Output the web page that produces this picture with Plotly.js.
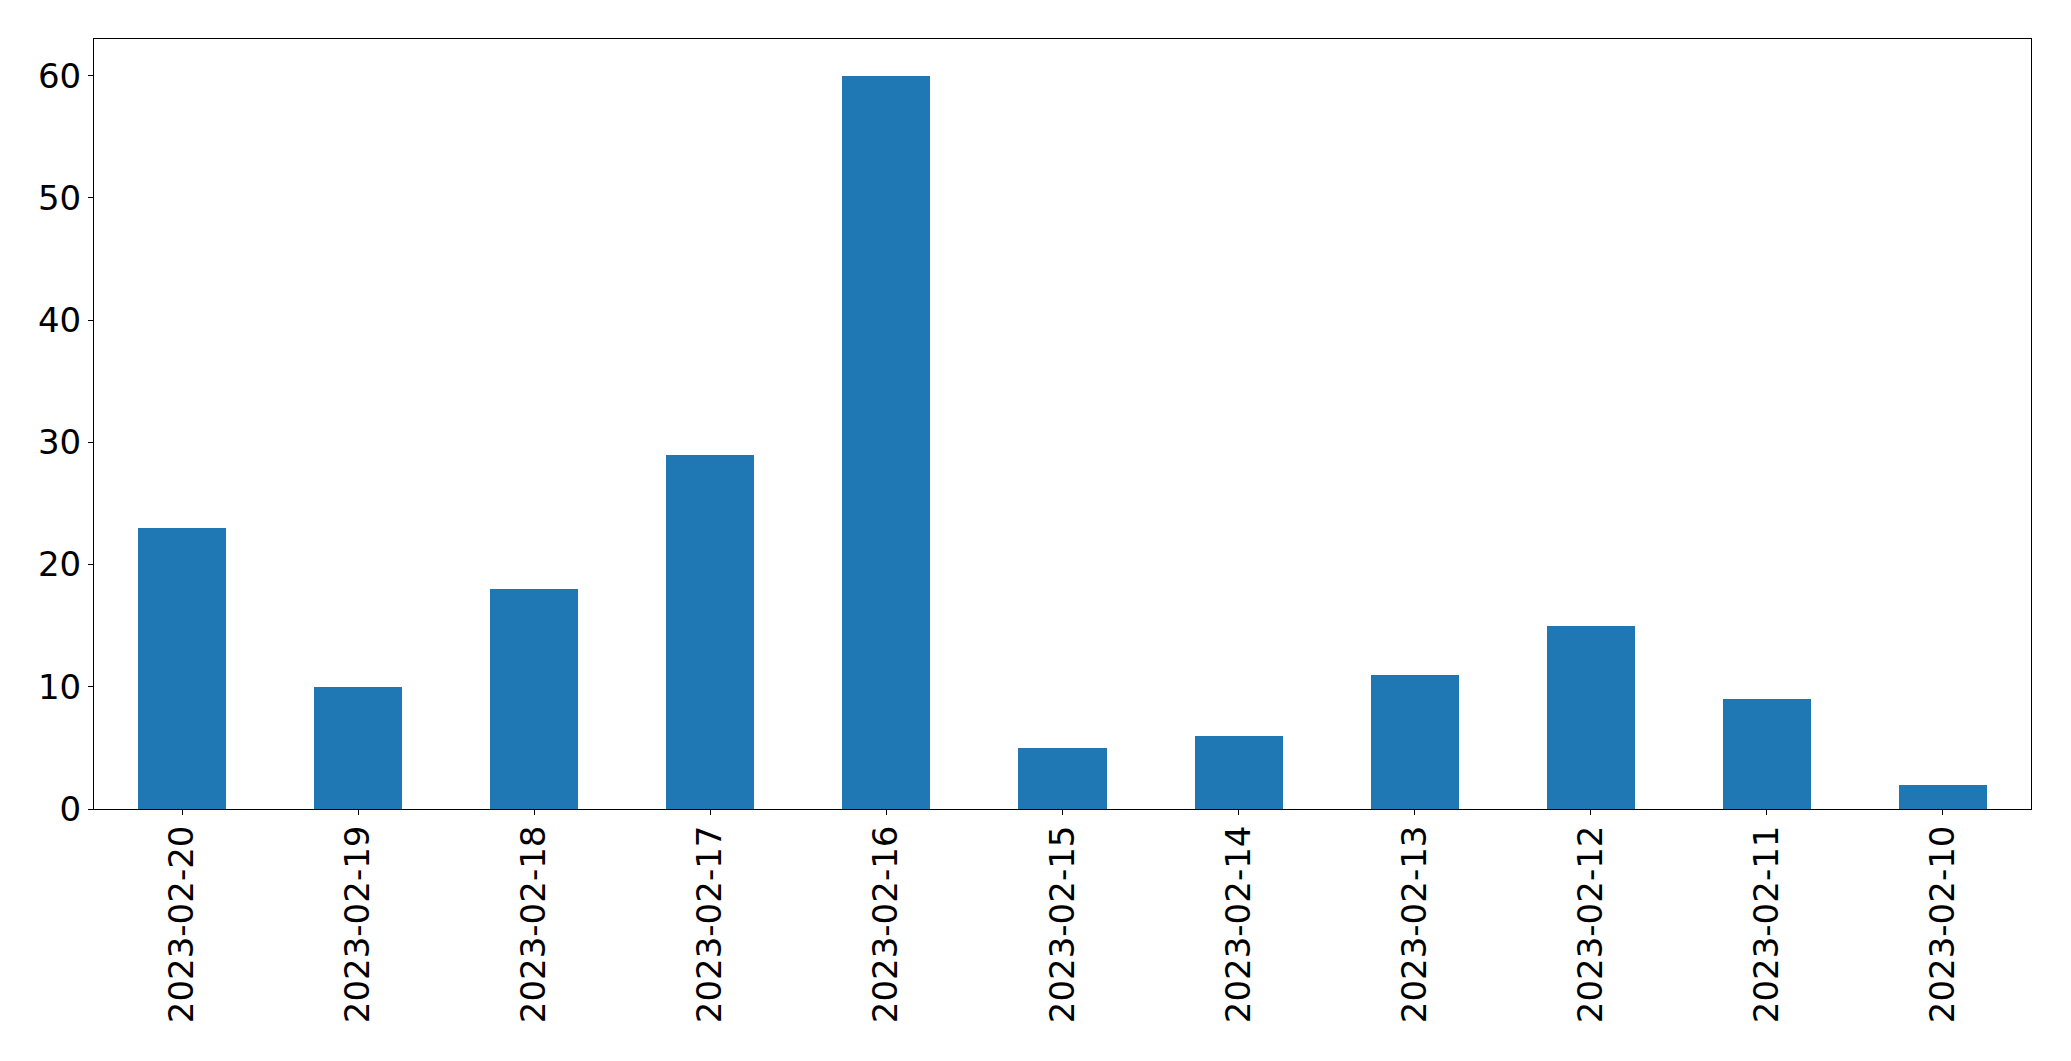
<!DOCTYPE html>
<html>
<head>
<meta charset="utf-8">
<script src="https://cdn.plot.ly/plotly-3.0.1.min.js"></script>
<style>html,body{margin:0;padding:0;background:#fff;}#chart{width:2071px;height:1061px;}</style>
</head>
<body>
<div id="chart"></div>
<script>
const dates = ["2023-02-20","2023-02-19","2023-02-18","2023-02-17","2023-02-16","2023-02-15","2023-02-14","2023-02-13","2023-02-12","2023-02-11","2023-02-10"];
const counts = [23, 10, 18, 29, 60, 5, 6, 11, 15, 9, 2];
const yTicks = [0, 10, 20, 30, 40, 50, 60];

const trace = {
  type: 'bar',
  x: dates,
  y: counts,
  width: 0.5,
  marker: {color: '#1f77b4', line: {width: 0}},
  hoverinfo: 'x+y'
};

const layout = {
  width: 2071,
  height: 1061,
  margin: {l: 94, r: 40, t: 39, b: 252, pad: 0},
  paper_bgcolor: '#ffffff',
  plot_bgcolor: '#ffffff',
  showlegend: false,
  font: {family: 'DejaVu Sans', size: 34, color: '#000000'},
  bargap: 0,
  xaxis: {
    type: 'category',
    range: [-0.5, 10.5],
    tickangle: -90,
    ticks: 'outside',
    ticklen: 5,
    tickwidth: 1,
    tickcolor: '#000',
    ticklabelstandoff: -3,
    showline: true,
    linecolor: '#000',
    linewidth: 1,
    mirror: true,
    showgrid: false,
    zeroline: false,
    tickfont: {family: 'DejaVu Sans', size: 34, color: '#000'}
  },
  yaxis: {
    range: [0, 63],
    tickvals: yTicks,
    ticktext: yTicks.map(String),
    ticks: 'outside',
    ticklen: 5,
    tickwidth: 1,
    tickcolor: '#000',
    showline: true,
    linecolor: '#000',
    linewidth: 1,
    mirror: true,
    showgrid: false,
    zeroline: false,
    tickfont: {family: 'DejaVu Sans', size: 34, color: '#000'}
  }
};

Plotly.newPlot('chart', [trace], layout, {displayModeBar: false, staticPlot: true});
</script>
</body>
</html>
